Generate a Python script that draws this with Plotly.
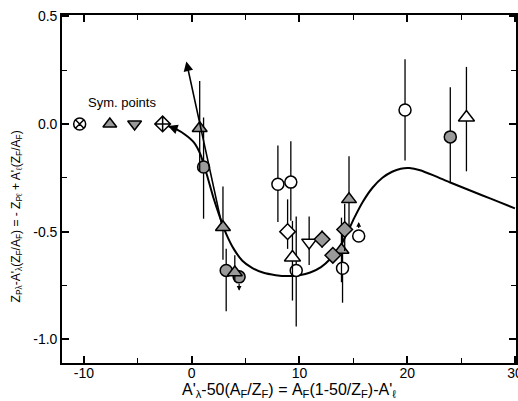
import plotly.graph_objects as go

# ---- data ----
sym_x = [-10.4, -7.6, -5.3, -2.7]
sym_y = [0.0, 0.0, 0.0, 0.0]
sym_symbols = ["circle-x", "triangle-up", "triangle-down", "diamond-cross"]
sym_fill = ["white", "#9a9a9a", "#9a9a9a", "white"]

oc_x = [8.0, 9.2, 9.7, 14.0, 19.8, 15.5]
oc_y = [-0.28, -0.27, -0.68, -0.67, 0.065, -0.52]
oc_plus = [0.18, 0.19, 0.25, 0.17, 0.235, 0.0]
oc_minus = [0.175, 0.18, 0.26, 0.16, 0.235, 0.0]

ot_x = [9.35, 25.5]
ot_y = [-0.62, 0.03]
ot_plus = [0.17, 0.235]
ot_minus = [0.2, 0.25]

od_x = [10.9]
od_y = [-0.55]
od_plus = [0.12]
od_minus = [0.105]

odia_x = [8.9]
odia_y = [-0.5]
odia_plus = [0.15]
odia_minus = [0.08]

hc_x = [1.1, 3.2, 4.4, 24.0]
hc_y = [-0.2, -0.68, -0.71, -0.06]
hc_plus = [0.23, 0.1, 0.0, 0.23]
hc_minus = [0.24, 0.19, 0.0, 0.21]

ht_x = [0.74, 2.9, 4.0, 13.9, 14.6]
ht_y = [-0.02, -0.48, -0.69, -0.585, -0.35]
ht_plus = [0.22, 0.19, 0.08, 0.15, 0.2]
ht_minus = [0.2, 0.15, 0.04, 0.15, 0.13]

hd_x = [12.1, 13.1, 14.2]
hd_y = [-0.535, -0.61, -0.49]
hd_plus = [0.04, 0.03, 0.12]
hd_minus = [0.04, 0.03, 0.1]

curve_x = [-2.2, -1.4, -0.6, 0.2, 0.8, 1.4, 2.0, 2.6, 3.2, 3.9, 4.7, 5.6, 6.6, 7.8, 8.9,
           10.0, 11.0, 12.0, 12.9, 13.7, 14.4, 15.1, 15.9, 16.8, 17.7, 18.6, 19.4, 20.2,
           21.2, 22.5, 24.0, 25.5, 27.0, 28.5, 30.0]
curve_y = [-0.01, -0.025, -0.05, -0.085, -0.14, -0.235, -0.34, -0.43, -0.51, -0.58,
           -0.635, -0.668, -0.69, -0.702, -0.706, -0.702, -0.69, -0.665, -0.625, -0.575,
           -0.51, -0.435, -0.36, -0.295, -0.25, -0.222, -0.208, -0.205, -0.215, -0.24,
           -0.272, -0.302, -0.332, -0.362, -0.392]

xtick_vals = [-10, 0, 10, 20, 30]
xtick_text = ["-10", "0", "10", "20", "30"]
ytick_vals = [0.5, 0.0, -0.5, -1.0]
ytick_text = ["0.5", "0.0", "-0.5", "-1.0"]

FONT = "Liberation Sans, Arial, sans-serif"

fig = go.Figure()

fig.add_trace(go.Scatter(x=curve_x, y=curve_y, mode="lines",
                         line=dict(color="black", width=2, shape="spline", smoothing=0.6),
                         hoverinfo="skip"))


def pts(x, y, plus, minus, symbol, fill, size):
    fig.add_trace(go.Scatter(
        x=x, y=y, mode="markers",
        marker=dict(symbol=symbol, size=size, color=fill, line=dict(color="black", width=1.5)),
        error_y=dict(type="data", symmetric=False, array=plus, arrayminus=minus,
                     color="black", thickness=1.3, width=0),
    ))


pts(oc_x, oc_y, oc_plus, oc_minus, "circle", "white", 12)
pts(ot_x, ot_y, ot_plus, ot_minus, "triangle-up", "white", 14)
pts(od_x, od_y, od_plus, od_minus, "triangle-down", "white", 13)
pts(odia_x, odia_y, odia_plus, odia_minus, "diamond", "white", 12)
pts(hc_x, hc_y, hc_plus, hc_minus, "circle", "#9a9a9a", 12)
pts(ht_x, ht_y, ht_plus, ht_minus, "triangle-up", "#9a9a9a", 13)
pts(hd_x, hd_y, hd_plus, hd_minus, "diamond", "#9a9a9a", 12)

for sx, sy, ss, sf in zip(sym_x, sym_y, sym_symbols, sym_fill):
    fig.add_trace(go.Scatter(x=[sx], y=[sy], mode="markers",
                             marker=dict(symbol=ss, size=12, color=sf, line=dict(color="black", width=1.5))))

# arrows
fig.add_annotation(x=-2.2, y=-0.01, ax=-1.2, ay=-0.028, xref="x", yref="y", axref="x", ayref="y",
                   showarrow=True, arrowhead=2, arrowsize=1.2, arrowwidth=1.6, arrowcolor="black", text="")
fig.add_annotation(x=-0.5, y=0.29, ax=2.8, ay=-0.47, xref="x", yref="y", axref="x", ayref="y",
                   showarrow=True, arrowhead=2, arrowsize=1.2, arrowwidth=1.6, arrowcolor="black", text="")
fig.add_annotation(x=4.4, y=-0.775, ax=4.4, ay=-0.735, xref="x", yref="y", axref="x", ayref="y",
                   showarrow=True, arrowhead=2, arrowsize=0.8, arrowwidth=1.2, arrowcolor="black", text="")
fig.add_annotation(x=15.5, y=-0.455, ax=15.5, ay=-0.49, xref="x", yref="y", axref="x", ayref="y",
                   showarrow=True, arrowhead=2, arrowsize=0.8, arrowwidth=1.2, arrowcolor="black", text="")

fig.add_annotation(x=-6.5, y=0.098, xref="x", yref="y", text="Sym. points", showarrow=False,
                   font=dict(family=FONT, size=13, color="black"))

fig.add_annotation(x=0.5, y=-0.08, xref="paper", yref="paper", xanchor="center", yanchor="middle",
                   text="A'<sub>λ</sub>-50(A<sub>F</sub>/Z<sub>F</sub>) = A<sub>F</sub>(1-50/Z<sub>F</sub>)-A'<sub>ℓ</sub>",
                   showarrow=False, font=dict(family=FONT, size=16, color="black"))
fig.add_annotation(x=-0.1, y=0.42, xref="paper", yref="paper", textangle=-90,
                   xanchor="center", yanchor="middle",
                   text="Z<sub>Pλ</sub>-A'<sub>λ</sub>(Z<sub>F</sub>/A<sub>F</sub>) = - Z<sub>Pℓ</sub> + A'<sub>ℓ</sub>(Z<sub>F</sub>/A<sub>F</sub>)",
                   showarrow=False, font=dict(family=FONT, size=12, color="black"))

axis_common = dict(showline=True, linecolor="black", linewidth=1.6, mirror="ticks", ticks="inside",
                   ticklen=7, tickwidth=1.5, tickcolor="black", showgrid=False, zeroline=False,
                   automargin=False, tickfont=dict(family=FONT, size=14, color="black"))

fig.update_xaxes(range=[-12.04, 30.1], tickvals=xtick_vals, ticktext=xtick_text, ticklabelstandoff=-4,
                 ticklabeloverflow="allow",
                 minor=dict(ticks="inside", ticklen=5, tickwidth=1.2, tickcolor="black",
                            tickvals=[-5, 5, 15, 25]), **axis_common)
fig.update_yaxes(range=[-1.11, 0.506], tickvals=ytick_vals, ticktext=ytick_text,
                 minor=dict(ticks="inside", ticklen=5, tickwidth=1.2, tickcolor="black",
                            tickvals=[0.25, -0.25, -0.75]), **axis_common)

fig.update_layout(width=518, height=401, margin=dict(l=62, r=2, t=15, b=38, autoexpand=False),
                  plot_bgcolor="white", paper_bgcolor="white", showlegend=False)

fig.write_html("out.html")
